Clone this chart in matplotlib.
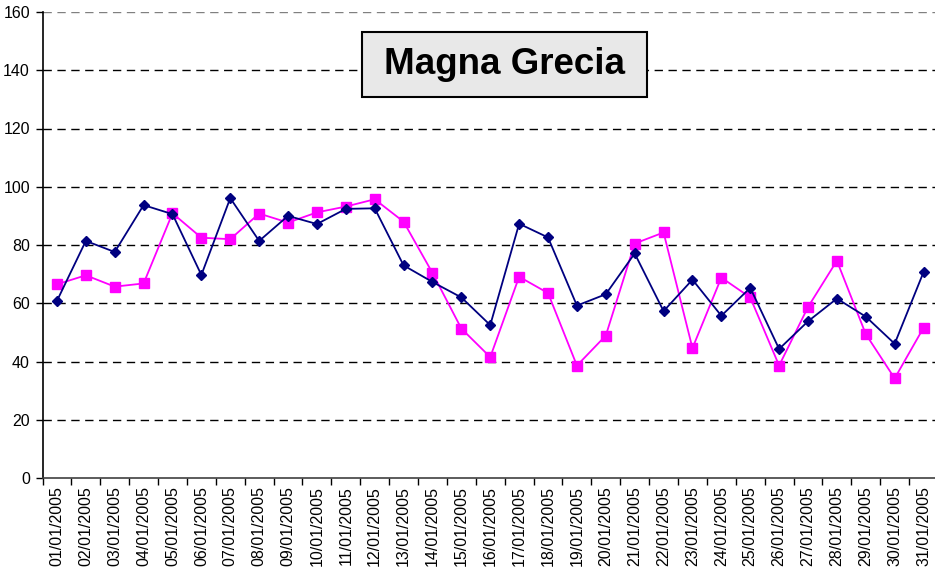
import matplotlib.pyplot as plt
from matplotlib.patches import Rectangle

plt.rcParams['font.family'] = ['Liberation Sans', 'DejaVu Sans']

dates = ['%02d/01/2005' % d for d in range(1, 32)]

serie_blu = [60.8, 81.4, 77.6, 93.7, 90.6, 69.7, 96.1, 81.4, 90.0, 87.2,
             92.4, 92.6, 73.0, 67.3, 62.0, 52.5, 87.3, 82.6, 59.2, 63.1,
             77.1, 57.3, 68.1, 55.7, 65.3, 44.3, 53.8, 61.6, 55.4, 46.1,
             70.7]
serie_magenta = [66.5, 69.6, 65.7, 66.8, 90.9, 82.5, 82.0, 90.8, 87.7, 91.2,
                 93.2, 95.7, 88.0, 70.4, 51.3, 41.5, 69.1, 63.5, 38.6, 48.9,
                 80.5, 84.3, 44.6, 68.8, 62.0, 38.6, 58.7, 74.6, 49.4, 34.2,
                 51.6]
y_ticks = [0, 20, 40, 60, 80, 100, 120, 140, 160]

W, H = 935, 577
fig = plt.figure(figsize=(W / 100, H / 100), dpi=100)
ax = fig.add_axes([42.5 / W, 1 - 478 / H, (938 - 42.5) / W, (478 - 12) / H])

x = list(range(len(dates)))
ax.plot(x, serie_magenta, color='#FF00FF', lw=1.3, marker='s', ms=7,
        mec='#FF00FF', zorder=3, clip_on=False)
ax.plot(x, serie_blu, color='#000080', lw=1.3, marker='D', ms=5,
        mec='#000080', zorder=4, clip_on=False)

ax.set_xlim(-0.5, len(dates) - 0.5)
ax.set_ylim(0, 160)
ax.set_yticks(y_ticks)
ax.set_xticks(x)
ax.set_xticklabels(dates, rotation=90, fontsize=11.5)
ax.set_xticks([i - 0.5 for i in range(len(dates) + 1)], minor=True)
ax.tick_params(axis='x', which='major', length=0, pad=6)
ax.tick_params(axis='x', which='minor', length=5, width=1, direction='out')
ax.tick_params(axis='y', length=5, width=1, labelsize=11.5, pad=4)

for yv in y_ticks[1:-1]:
    ax.axhline(yv, color='black', lw=1, ls=(0, (6, 4)), zorder=1)
ax.axhline(y_ticks[-1], color='#808080', lw=1, ls=(0, (6, 4)), zorder=1)

ax.spines['top'].set_visible(False)
ax.spines['right'].set_visible(False)
ax.spines['left'].set_linewidth(1.2)
ax.spines['bottom'].set_linewidth(1.2)
ax.spines['bottom'].set_color('#404040')

# riquadro del titolo
box = Rectangle((362 / W, 1 - 97 / H), (647 - 362) / W, (97 - 32) / H,
                transform=fig.transFigure, facecolor='#E8E8E8',
                edgecolor='black', lw=1.5, zorder=5)
fig.patches.append(box)
fig.text(504.5 / W, 1 - 65 / H, 'Magna Grecia', ha='center', va='center',
         fontsize=26.5, fontweight='bold', zorder=6)

fig.savefig('out.png', dpi=100)
